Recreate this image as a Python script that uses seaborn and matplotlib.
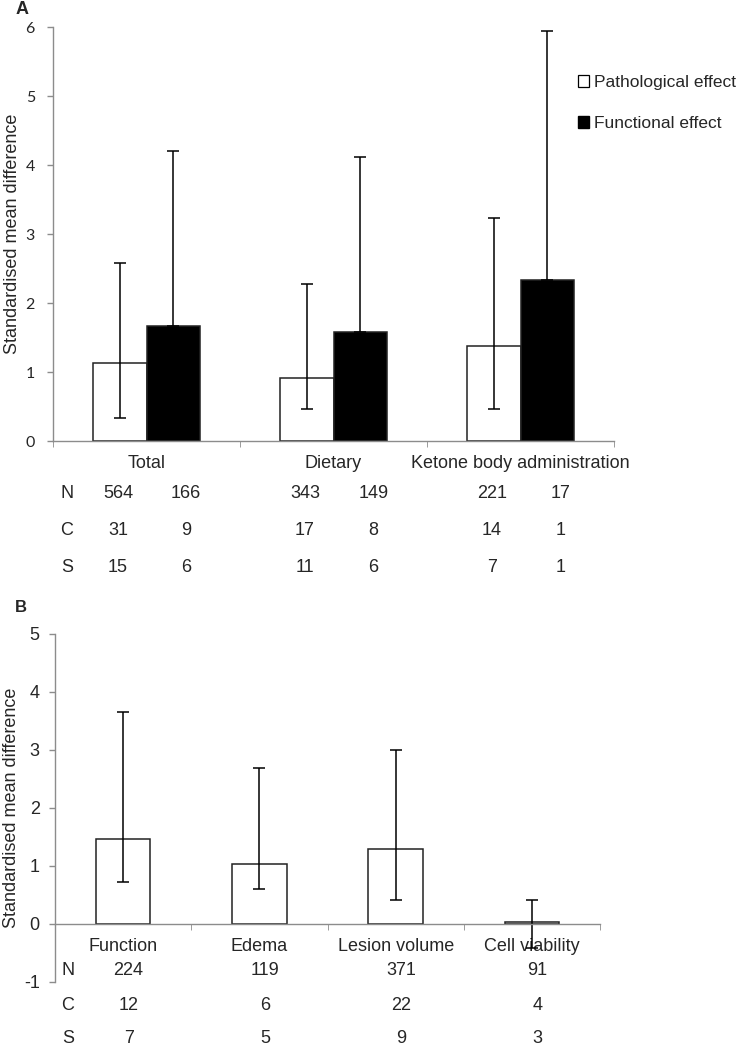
import numpy as np
import pandas as pd
import matplotlib
matplotlib.use("Agg")
import matplotlib.pyplot as plt
from matplotlib.patches import Patch
import seaborn as sns

# panel A: subgroup summary
groups_a = ["Total", "Dietary", "Ketone body administration"]
effects = ["Pathological effect", "Functional effect"]
smd_path = [1.13, 0.91, 1.38]
smd_func = [1.66, 1.58, 2.33]
path_lo = [0.33, 0.47, 0.47]
path_hi = [2.58, 2.28, 3.23]
func_hi = [4.20, 4.12, 5.94]
n_path = [564, 343, 221]
n_func = [166, 149, 17]
c_path = [31, 17, 14]
c_func = [9, 8, 1]
s_path = [15, 11, 7]
s_func = [6, 6, 1]

# panel B: outcome types
groups_b = ["Function", "Edema", "Lesion volume", "Cell viability"]
smd_b = [1.47, 1.04, 1.29, 0.03]
lo_b = [0.73, 0.61, 0.41, -0.42]
hi_b = [3.66, 2.69, 3.00, 0.41]
n_b = [224, 119, 371, 91]
c_b = [12, 6, 22, 4]
s_b = [7, 5, 9, 3]

sns.set_style("white")
plt.rcParams["font.family"] = ["Liberation Sans", "DejaVu Sans"]
plt.rcParams["axes.unicode_minus"] = False
AXC = "#8c8c8c"
FS = 13


def style_axes(ax, n_groups):
    for side in ["top", "right"]:
        ax.spines[side].set_visible(False)
    for side in ["left", "bottom"]:
        ax.spines[side].set_color(AXC)
        ax.spines[side].set_linewidth(1)
    ax.set_xlim(-0.5, n_groups - 0.5)
    ax.set_xticks(np.arange(-0.5, n_groups, 1.0), minor=True)
    ax.tick_params(axis="x", which="major", length=0, pad=10, labelsize=FS)
    ax.tick_params(axis="x", which="minor", length=4, color=AXC, direction="out", bottom=True)
    ax.tick_params(axis="y", length=4, color=AXC, direction="out", left=True, width=1)
    ax.set_xlabel("")


fig = plt.figure(figsize=(7.4, 10.48), dpi=100)
ax_a = fig.add_axes([53 / 740, 1 - 441 / 1048, (614 - 53) / 740, (441 - 27) / 1048])
ax_b = fig.add_axes([55 / 740, 1 - 982 / 1048, (600 - 55) / 740, (982 - 634) / 1048])

# ---- panel A
df_a = pd.DataFrame({
    "group": groups_a * 2,
    "effect": [effects[0]] * len(groups_a) + [effects[1]] * len(groups_a),
    "smd": smd_path + smd_func,
})
sns.barplot(data=df_a, x="group", y="smd", hue="effect", hue_order=effects,
            palette={effects[0]: "white", effects[1]: "black"}, saturation=1,
            width=0.57, gap=0, edgecolor="#222222", linewidth=1.1,
            errorbar=None, legend=False, ax=ax_a)
style_axes(ax_a, len(groups_a))
ax_a.set_ylim(0, 6)
ax_a.set_yticks(range(0, 7))
for lab in ax_a.get_yticklabels():
    lab.set_fontfamily(["Lato", "DejaVu Sans"])
    lab.set_fontsize(11.5)
ax_a.tick_params(axis="y", pad=9)
ax_a.set_ylabel("Standardised mean difference", fontsize=FS)
ax_a.yaxis.set_label_coords(-0.057, 0.5)

path_bars = ax_a.containers[0]
func_bars = ax_a.containers[1]
xp = [p.get_x() + p.get_width() / 2 for p in path_bars]
xf = [p.get_x() + p.get_width() / 2 for p in func_bars]
ax_a.errorbar(xp, smd_path,
              yerr=[np.subtract(smd_path, path_lo), np.subtract(path_hi, smd_path)],
              fmt="none", ecolor="black", elinewidth=1.1, capsize=4, capthick=1.1)
ax_a.errorbar(xf, smd_func,
              yerr=[np.zeros(len(smd_func)), np.subtract(func_hi, smd_func)],
              fmt="none", ecolor="black", elinewidth=1.1, capsize=4, capthick=1.1)

rows_a = [("N", n_path, n_func, -0.76), ("C", c_path, c_func, -1.30), ("S", s_path, s_func, -1.83)]
for lab, vp, vf, yy in rows_a:
    ax_a.text(-0.425, yy, lab, ha="center", va="center", fontsize=FS)
    for x, v in zip(xp, vp):
        ax_a.text(x - 0.01, yy, str(v), ha="center", va="center", fontsize=FS)
    for x, v in zip(xf, vf):
        ax_a.text(x + 0.07, yy, str(v), ha="center", va="center", fontsize=FS)

fig.legend(handles=[Patch(facecolor="white", edgecolor="black", linewidth=0.9),
                    Patch(facecolor="black", edgecolor="black")],
           labels=effects, loc="upper left", bbox_to_anchor=(578 / 740, 1 - 75 / 1048),
           frameon=False, fontsize=12.5, handlelength=0.65, handleheight=0.65,
           handletextpad=0.3, labelspacing=1.5, borderpad=0, borderaxespad=0)

# ---- panel B
df_b = pd.DataFrame({"group": groups_b, "smd": smd_b})
sns.barplot(data=df_b, x="group", y="smd", color="white", saturation=1,
            width=0.4, edgecolor="#222222", linewidth=1.1, errorbar=None, ax=ax_b)
style_axes(ax_b, len(groups_b))
ax_b.spines["bottom"].set_position(("data", 0))
ax_b.set_ylim(-1, 5)
ax_b.set_yticks(range(-1, 6))
ax_b.tick_params(axis="y", labelsize=FS, pad=7)
ax_b.set_ylabel("Standardised mean difference", fontsize=FS)
ax_b.yaxis.set_label_coords(-0.064, 0.5)

xb = [p.get_x() + p.get_width() / 2 for p in ax_b.containers[0]]
ax_b.errorbar(xb, smd_b, yerr=[np.subtract(smd_b, lo_b), np.subtract(hi_b, smd_b)],
              fmt="none", ecolor="black", elinewidth=1.1, capsize=4, capthick=1.1)

rows_b = [("N", n_b, -0.80), ("C", c_b, -1.41), ("S", s_b, -1.98)]
for lab, vals, yy in rows_b:
    ax_b.text(-0.405, yy, lab, ha="center", va="center", fontsize=FS)
    for x, v in zip(xb, vals):
        ax_b.text(x + 0.04, yy, str(v), ha="center", va="center", fontsize=FS)

fig.text(22 / 740, 1 - 10 / 1048, "A", fontsize=13, fontweight="bold", ha="center", va="center")
fig.text(21 / 740, 1 - 608 / 1048, "B", fontsize=12, fontweight="bold", ha="center", va="center")

fig.savefig("out.png", dpi=100)
